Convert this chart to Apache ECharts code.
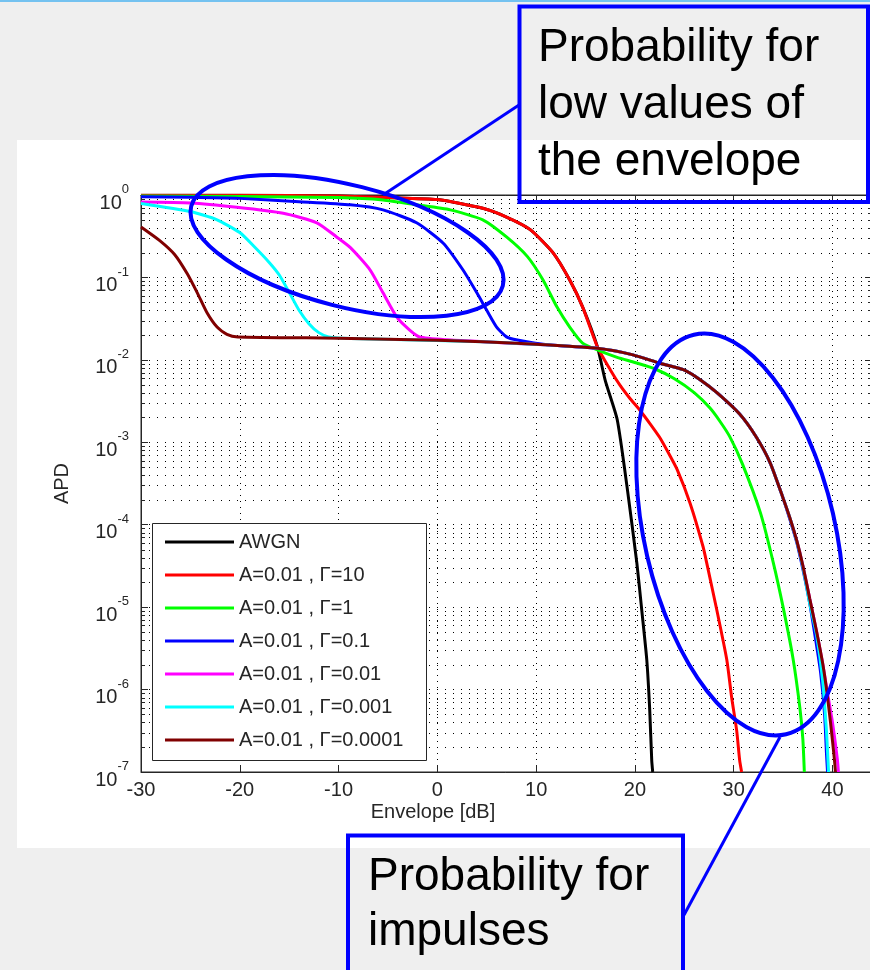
<!DOCTYPE html>
<html><head><meta charset="utf-8"><title>APD</title>
<script src="https://cdn.jsdelivr.net/npm/echarts@6.0.0/dist/echarts.min.js"></script>
<style>
html,body{margin:0;padding:0;width:870px;height:970px;overflow:hidden;background:#efefef;}
#topline{position:absolute;left:0;top:0;width:870px;height:2px;background:#74c2f0;}
#fig{position:absolute;left:17px;top:140px;width:853px;height:708px;background:#ffffff;}
#chart{position:absolute;left:0;top:0;width:870px;height:970px;}
</style></head><body>
<div id="topline"></div><div id="fig"></div><div id="chart"></div>
<script>
const FONT = '"Liberation Sans", Arial, Helvetica, sans-serif';
const TEXT_COLOR = '#262626';
const X_MIN = -30, X_MAX = 44, X_STEP = 10;
const Y_MIN = 1e-7, Y_MAX = 1;
const minorMantissas = [2, 3, 4, 5, 6, 7, 8, 9];
const decadeExponents = [-7, -6, -5, -4, -3, -2, -1];

const seriesNames = ['AWGN', 'A=0.01 , Γ=10', 'A=0.01 , Γ=1', 'A=0.01 , Γ=0.1',
  'A=0.01 , Γ=0.01', 'A=0.01 , Γ=0.001', 'A=0.01 , Γ=0.0001'];
const seriesColors = ['#000000', '#ff0000', '#00ff00', '#0000ff', '#ff00ff', '#00ffff', '#800000'];

// [Envelope dB, APD]
const awgnData = [[-30,0.99],[-20,0.99],[-10,0.97],[-5,0.93],[0,0.88],[4.6,0.69],[7,0.54],[9.4,0.38],
  [11.7,0.2],[13.4,0.093],[14.7,0.044],[16.2,0.0144],[17,5.6e-3],[18.2,1.9e-3],[19.2,2.9e-4],
  [20.2,3.4e-5],[20.7,9e-6],[21.2,2.3e-6],[21.5,5.6e-7],[21.7,1.4e-7],[21.8,1e-7]];
const gamma10Data = [[-30,0.99],[-20,0.99],[-10,0.97],[-5,0.93],[0,0.88],[4.6,0.69],[7,0.54],[9.4,0.38],
  [11.7,0.2],[13.4,0.093],[14.7,0.044],[16.2,0.0144],[17.5,7.6e-3],[18.5,4.9e-3],[19.5,3.4e-3],
  [20.5,2.45e-3],[21.5,1.7e-3],[22.5,1.15e-3],[23.4,7.4e-4],[24.3,4.6e-4],[25.6,1.8e-4],[26.9,5.4e-5],
  [27.3,3.3e-5],[28.3,9.1e-6],[29.3,2.3e-6],[29.8,7.9e-7],[30.3,3.2e-7],[30.6,1.4e-7],[30.8,1e-7]];
const gamma1Data = [[-30,0.97],[-20,0.96],[-10,0.93],[-5.5,0.87],[-2.1,0.76],[1.3,0.66],[4.6,0.5],
  [7,0.31],[9.1,0.18],[10.7,0.093],[12.1,0.044],[13.4,0.025],[14.7,0.016],[16.2,0.0132],[18.2,0.0107],
  [20,9.3e-3],[22,7.8e-3],[24,5.9e-3],[26,4e-3],[27.6,2.6e-3],[28.6,1.8e-3],[29.6,1.17e-3],[30.9,5.4e-4],
  [32.7,1.4e-4],[34,3.5e-5],[35,1e-5],[36,2.4e-6],[36.7,6e-7],[37,2.5e-7],[37.15,1e-7]];
const gamma01Data = [[-30,0.95],[-25,0.94],[-20,0.91],[-14,0.83],[-8.8,0.76],[-5.5,0.66],[-2.1,0.46],
  [0.6,0.26],[2.6,0.123],[4,0.065],[5,0.04],[6,0.025],[7,0.019],[8.1,0.0174],[11.4,0.0151],
  [16.2,0.0138],[19.8,0.0115],[22.5,9.1e-3],[24.9,7.6e-3],[26.6,5.75e-3],[28.3,4e-3],[30.6,2.2e-3],
  [32.3,1.15e-3],[33.7,5.6e-4],[35,2.1e-4],[35.7,1.15e-4],[36.4,6e-5],[37,2.9e-5],[37.7,1.1e-5],
  [38.3,4e-6],[38.8,1.6e-6],[39.2,5e-7],[39.4,1.6e-7],[39.5,1e-7]];
const gamma001Data = [[-30,0.82],[-25,0.8],[-20.3,0.71],[-15.6,0.6],[-12.2,0.46],[-10.2,0.31],
  [-8.8,0.23],[-6.8,0.123],[-5.5,0.065],[-4.1,0.033],[-2.8,0.023],[-1.8,0.019],[1,0.0175],
  [4.6,0.0166],[11.4,0.0151],[16.2,0.0138],[19.8,0.0115],[22.5,9.1e-3],[24.9,7.6e-3],[26.6,5.75e-3],
  [28.3,4e-3],[30.6,2.2e-3],[32.3,1.15e-3],[33.7,5.6e-4],[35,2.1e-4],[35.7,1.2e-4],[36.4,6.3e-5],
  [37,3.2e-5],[37.7,1.26e-5],[38.4,5e-6],[39,2.1e-6],[39.5,9e-7],[40,4e-7],[40.5,1.4e-7],[40.6,1e-7]];
const gamma0001Data = [[-30,0.79],[-25,0.63],[-22.3,0.5],[-20,0.35],[-18.5,0.234],[-17,0.151],
  [-16,0.107],[-15,0.066],[-14,0.04],[-13,0.0275],[-12,0.0214],[-11,0.019],[-8.8,0.0182],
  [4.6,0.0166],[11.4,0.0151],[16.2,0.0138],[19.8,0.0115],[22.5,9.1e-3],[24.9,7.6e-3],[26.6,5.75e-3],
  [28.3,4e-3],[30.6,2.2e-3],[32.3,1.15e-3],[33.7,5.6e-4],[35,2.1e-4],[35.7,1.2e-4],[36.4,6.2e-5],
  [37,3.1e-5],[37.7,1.1e-5],[38.4,4.5e-6],[39,1.3e-6],[39.4,3e-7],[39.6,1e-7]];
const gamma00001Data = [[-30,0.41],[-28.1,0.28],[-26.6,0.19],[-25.3,0.11],[-24.3,0.065],[-23.3,0.037],
  [-22.3,0.025],[-21.3,0.0204],[-20.2,0.019],[-10,0.0183],[0,0.0173],[4.6,0.0166],[11.4,0.0151],
  [16.2,0.0138],[19.8,0.0115],[22.5,9.1e-3],[24.9,7.6e-3],[26.6,5.75e-3],[28.3,4e-3],[30.6,2.2e-3],
  [32.3,1.15e-3],[33.7,5.6e-4],[35,2.1e-4],[35.7,1.2e-4],[36.4,6.3e-5],[37,3.2e-5],[37.7,1.26e-5],
  [38.4,5e-6],[39,2.1e-6],[39.4,1e-6],[39.8,4e-7],[40.2,1.4e-7],[40.3,1e-7]];

const seriesData = [awgnData, gamma10Data, gamma1Data, gamma01Data, gamma001Data, gamma0001Data, gamma00001Data];

// minor log gridline positions (axis decoration only)
const minorGridValues = [];
decadeExponents.forEach(function (e) {
  minorMantissas.forEach(function (m) { minorGridValues.push([X_MIN, m * Math.pow(10, e)]); });
});

const chart = echarts.init(document.getElementById('chart'), null, {renderer: 'canvas'});

const lineSeries = seriesNames.map(function (name, i) {
  return {
    type: 'line', name: name, data: seriesData[i], showSymbol: false, symbol: 'none',
    smooth: 0.2, color: seriesColors[i], z: 3 + i,
    lineStyle: {color: seriesColors[i], width: 3}, itemStyle: {color: seriesColors[i]},
    emphasis: {disabled: true}, animation: false, silent: true
  };
});

const axisLineStyle = {color: TEXT_COLOR, width: 1};

const option = {
  backgroundColor: 'transparent',
  animation: false,
  textStyle: {fontFamily: FONT},
  grid: {left: 141, top: 195, width: 731, height: 577, show: true, borderColor: TEXT_COLOR,
    borderWidth: 1, backgroundColor: 'transparent', containLabel: false, outerBoundsMode: 'none'},
  xAxis: [{
    type: 'value', min: X_MIN, max: X_MAX, interval: X_STEP, position: 'bottom',
    axisLine: {show: true, onZero: false, lineStyle: axisLineStyle},
    axisTick: {show: true, inside: true, length: 7, lineStyle: axisLineStyle},
    axisLabel: {show: true, margin: 8, fontSize: 20, color: TEXT_COLOR, fontFamily: FONT,
      showMaxLabel: false,
      formatter: function (v) { return (v % 10 === 0) ? String(v) : ''; }},
    splitLine: {show: true, lineStyle: {color: '#000', width: 1, type: [1, 5]}}
  }, {
    type: 'value', min: X_MIN, max: X_MAX, interval: X_STEP, position: 'top',
    axisLine: {show: true, onZero: false, lineStyle: axisLineStyle},
    axisTick: {show: true, inside: true, length: 7, lineStyle: axisLineStyle},
    axisLabel: {show: false}, splitLine: {show: false}
  }],
  yAxis: [{
    type: 'log', logBase: 10, min: Y_MIN, max: Y_MAX, splitNumber: 7, position: 'left',
    name: 'APD', nameLocation: 'middle', nameGap: 69,
    nameTextStyle: {fontSize: 20, color: TEXT_COLOR, fontFamily: FONT},
    axisLine: {show: true, onZero: false, lineStyle: axisLineStyle},
    axisTick: {show: true, inside: true, length: 7, lineStyle: axisLineStyle},
    axisLabel: {
      show: true, margin: 12, padding: [6, 0, 0, 0],
      formatter: function (v) { return '{b|10}{e|' + Math.round(Math.log10(v)) + '}'; },
      rich: {
        b: {fontSize: 20, lineHeight: 30, verticalAlign: 'bottom', color: TEXT_COLOR, fontFamily: FONT},
        e: {fontSize: 13, lineHeight: 13, verticalAlign: 'top', color: TEXT_COLOR, fontFamily: FONT}
      }
    },
    splitLine: {show: true, lineStyle: {color: '#000', width: 1, type: [1, 7]}}
  }, {
    type: 'log', logBase: 10, min: Y_MIN, max: Y_MAX, splitNumber: 7, position: 'right',
    axisLine: {show: true, onZero: false, lineStyle: axisLineStyle},
    axisTick: {show: true, inside: true, length: 7, lineStyle: axisLineStyle},
    axisLabel: {show: false}, splitLine: {show: false}
  }],
  legend: {
    show: true, orient: 'vertical', left: 165, top: 532, padding: 0, z: 40,
    itemWidth: 69, itemHeight: 3, itemGap: 13, icon: 'rect', selectedMode: false,
    data: seriesNames,
    textStyle: {fontSize: 20, lineHeight: 20, color: TEXT_COLOR, fontFamily: FONT, padding: [0, 0, 0, 0]}
  },
  series: [{
    type: 'custom', name: 'minorGrid', silent: true, z: 1, xAxisIndex: 0, yAxisIndex: 0,
    coordinateSystem: 'cartesian2d', data: minorGridValues, encode: {x: 0, y: 1}, animation: false,
    renderItem: function (params, api) {
      const v = api.value(1);
      const p1 = api.coord([X_MIN, v]);
      const p2 = api.coord([X_MAX, v]);
      const y = Math.round(p1[1]) + 0.5;
      return {type: 'group', children: [
        {type: 'line', shape: {x1: p1[0], y1: y, x2: p2[0], y2: y}, style: {stroke: '#000', lineWidth: 1, lineDash: [1, 7]}},
        {type: 'line', shape: {x1: p1[0], y1: y, x2: p1[0] + 4, y2: y}, style: {stroke: TEXT_COLOR, lineWidth: 1}},
        {type: 'line', shape: {x1: p2[0] - 4, y1: y, x2: p2[0], y2: y}, style: {stroke: TEXT_COLOR, lineWidth: 1}}
      ]};
    }
  }].concat(lineSeries),
  graphic: [
    {type: 'rect', z: 30, silent: true, shape: {x: 152.5, y: 523.5, width: 274, height: 237},
      style: {fill: '#ffffff', stroke: TEXT_COLOR, lineWidth: 1}},
    {type: 'text', z: 30, silent: true, x: 433, y: 812,
      style: {text: 'Envelope [dB]', fontSize: 20, fontFamily: FONT, fill: TEXT_COLOR, align: 'center', verticalAlign: 'middle'}},
    {type: 'ellipse', z: 50, silent: true, x: 347, y: 246, rotation: -14.3 * Math.PI / 180,
      shape: {cx: 0, cy: 0, rx: 160.8, ry: 60.7}, style: {fill: 'none', stroke: '#0000ff', lineWidth: 4}},
    {type: 'ellipse', z: 50, silent: true, x: 740, y: 534.5, rotation: -77 * Math.PI / 180,
      shape: {cx: 0, cy: 0, rx: 205, ry: 95.3}, style: {fill: 'none', stroke: '#0000ff', lineWidth: 4}},
    {type: 'line', z: 50, silent: true, shape: {x1: 519, y1: 105, x2: 383, y2: 195}, style: {stroke: '#0000ff', lineWidth: 3}},
    {type: 'line', z: 50, silent: true, shape: {x1: 684, y1: 915, x2: 780, y2: 737}, style: {stroke: '#0000ff', lineWidth: 3}},
    {type: 'rect', z: 50, silent: true, shape: {x: 519.5, y: 6.5, width: 348.5, height: 195.5},
      style: {fill: 'none', stroke: '#0000ff', lineWidth: 4}},
    {type: 'rect', z: 50, silent: true, shape: {x: 348, y: 835.5, width: 335, height: 200},
      style: {fill: 'none', stroke: '#0000ff', lineWidth: 4}},
    {type: 'text', z: 51, silent: true, x: 538, y: 48, style: {text: 'Probability for', fontSize: 46, fontFamily: FONT, fill: '#000', align: 'left', verticalAlign: 'middle'}},
    {type: 'text', z: 51, silent: true, x: 538, y: 105, style: {text: 'low values of', fontSize: 46, fontFamily: FONT, fill: '#000', align: 'left', verticalAlign: 'middle'}},
    {type: 'text', z: 51, silent: true, x: 538, y: 162, style: {text: 'the envelope', fontSize: 46, fontFamily: FONT, fill: '#000', align: 'left', verticalAlign: 'middle'}},
    {type: 'text', z: 51, silent: true, x: 368, y: 877, style: {text: 'Probability for', fontSize: 46, fontFamily: FONT, fill: '#000', align: 'left', verticalAlign: 'middle'}},
    {type: 'text', z: 51, silent: true, x: 368, y: 932, style: {text: 'impulses', fontSize: 46, fontFamily: FONT, fill: '#000', align: 'left', verticalAlign: 'middle'}}
  ]
};
chart.setOption(option);
</script></body></html>
